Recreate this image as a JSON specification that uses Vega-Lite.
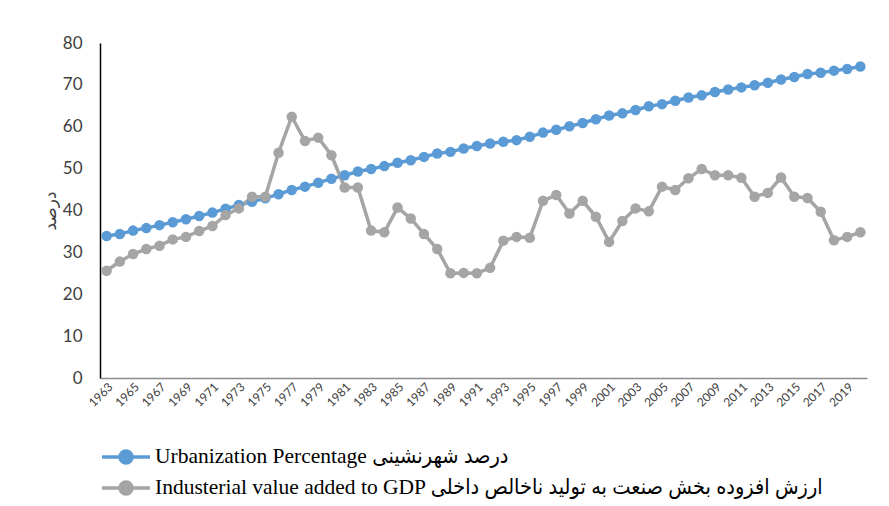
{
  "$schema": "https://vega.github.io/schema/vega-lite/v6.json",
  "autosize": {"type": "none"},
  "width": 767,
  "height": 335,
  "padding": {"left": 100, "top": 43, "right": 22, "bottom": 128},
  "background": "white",
  "config": {"view": {"stroke": null}},
  "data": {"values": [
    {"year":1963,"s":"U","v":33.9},{"year":1964,"s":"U","v":34.4},{"year":1965,"s":"U","v":35.2},{"year":1966,"s":"U","v":35.8},{"year":1967,"s":"U","v":36.5},{"year":1968,"s":"U","v":37.2},{"year":1969,"s":"U","v":37.9},{"year":1970,"s":"U","v":38.7},{"year":1971,"s":"U","v":39.5},{"year":1972,"s":"U","v":40.4},{"year":1973,"s":"U","v":41.3},{"year":1974,"s":"U","v":42.1},{"year":1975,"s":"U","v":42.9},{"year":1976,"s":"U","v":43.9},{"year":1977,"s":"U","v":44.9},{"year":1978,"s":"U","v":45.7},{"year":1979,"s":"U","v":46.6},{"year":1980,"s":"U","v":47.6},{"year":1981,"s":"U","v":48.4},{"year":1982,"s":"U","v":49.3},{"year":1983,"s":"U","v":49.9},{"year":1984,"s":"U","v":50.6},{"year":1985,"s":"U","v":51.4},{"year":1986,"s":"U","v":52.0},{"year":1987,"s":"U","v":52.8},{"year":1988,"s":"U","v":53.6},{"year":1989,"s":"U","v":54.0},{"year":1990,"s":"U","v":54.8},{"year":1991,"s":"U","v":55.4},{"year":1992,"s":"U","v":56.0},{"year":1993,"s":"U","v":56.4},{"year":1994,"s":"U","v":56.8},{"year":1995,"s":"U","v":57.6},{"year":1996,"s":"U","v":58.6},{"year":1997,"s":"U","v":59.3},{"year":1998,"s":"U","v":60.1},{"year":1999,"s":"U","v":60.9},{"year":2000,"s":"U","v":61.8},{"year":2001,"s":"U","v":62.7},{"year":2002,"s":"U","v":63.2},{"year":2003,"s":"U","v":64.0},{"year":2004,"s":"U","v":64.9},{"year":2005,"s":"U","v":65.4},{"year":2006,"s":"U","v":66.2},{"year":2007,"s":"U","v":67.0},{"year":2008,"s":"U","v":67.5},{"year":2009,"s":"U","v":68.3},{"year":2010,"s":"U","v":68.9},{"year":2011,"s":"U","v":69.4},{"year":2012,"s":"U","v":69.9},{"year":2013,"s":"U","v":70.5},{"year":2014,"s":"U","v":71.3},{"year":2015,"s":"U","v":71.9},{"year":2016,"s":"U","v":72.6},{"year":2017,"s":"U","v":72.9},{"year":2018,"s":"U","v":73.4},{"year":2019,"s":"U","v":73.8},{"year":2020,"s":"U","v":74.4},
    {"year":1963,"s":"I","v":25.6},{"year":1964,"s":"I","v":27.8},{"year":1965,"s":"I","v":29.6},{"year":1966,"s":"I","v":30.8},{"year":1967,"s":"I","v":31.6},{"year":1968,"s":"I","v":33.1},{"year":1969,"s":"I","v":33.7},{"year":1970,"s":"I","v":35.1},{"year":1971,"s":"I","v":36.3},{"year":1972,"s":"I","v":38.9},{"year":1973,"s":"I","v":40.5},{"year":1974,"s":"I","v":43.3},{"year":1975,"s":"I","v":43.3},{"year":1976,"s":"I","v":53.8},{"year":1977,"s":"I","v":62.4},{"year":1978,"s":"I","v":56.6},{"year":1979,"s":"I","v":57.4},{"year":1980,"s":"I","v":53.2},{"year":1981,"s":"I","v":45.5},{"year":1982,"s":"I","v":45.5},{"year":1983,"s":"I","v":35.2},{"year":1984,"s":"I","v":34.8},{"year":1985,"s":"I","v":40.7},{"year":1986,"s":"I","v":38.1},{"year":1987,"s":"I","v":34.4},{"year":1988,"s":"I","v":30.8},{"year":1989,"s":"I","v":25.0},{"year":1990,"s":"I","v":25.1},{"year":1991,"s":"I","v":25.0},{"year":1992,"s":"I","v":26.3},{"year":1993,"s":"I","v":32.8},{"year":1994,"s":"I","v":33.7},{"year":1995,"s":"I","v":33.5},{"year":1996,"s":"I","v":42.3},{"year":1997,"s":"I","v":43.7},{"year":1998,"s":"I","v":39.3},{"year":1999,"s":"I","v":42.3},{"year":2000,"s":"I","v":38.5},{"year":2001,"s":"I","v":32.5},{"year":2002,"s":"I","v":37.5},{"year":2003,"s":"I","v":40.5},{"year":2004,"s":"I","v":39.8},{"year":2005,"s":"I","v":45.7},{"year":2006,"s":"I","v":44.9},{"year":2007,"s":"I","v":47.7},{"year":2008,"s":"I","v":49.9},{"year":2009,"s":"I","v":48.4},{"year":2010,"s":"I","v":48.4},{"year":2011,"s":"I","v":47.8},{"year":2012,"s":"I","v":43.3},{"year":2013,"s":"I","v":44.2},{"year":2014,"s":"I","v":47.9},{"year":2015,"s":"I","v":43.3},{"year":2016,"s":"I","v":43.0},{"year":2017,"s":"I","v":39.7},{"year":2018,"s":"I","v":32.9},{"year":2019,"s":"I","v":33.7},{"year":2020,"s":"I","v":34.8}
  ]},
  "mark": {"type": "line", "strokeWidth": 3.5, "point": {"filled": true, "size": 110, "opacity": 1}},
  "encoding": {
    "x": {
      "field": "year", "type": "ordinal",
      "axis": {
        "title": null,
        "values": [1963,1965,1967,1969,1971,1973,1975,1977,1979,1981,1983,1985,1987,1989,1991,1993,1995,1997,1999,2001,2003,2005,2007,2009,2011,2013,2015,2017,2019],
        "labelAngle": -45,
        "labelFont": "Lato",
        "labelFontSize": 12,
        "labelColor": "#404040",
        "labelPadding": 3,
        "ticks": false,
        "domainColor": "#8c8c8c",
        "domainWidth": 1.5
      }
    },
    "y": {
      "field": "v", "type": "quantitative",
      "scale": {"domain": [0, 80], "nice": false},
      "axis": {
        "title": "درصد",
        "titleFont": "DejaVu Sans",
        "titleFontSize": 17,
        "titleFontWeight": "normal",
        "titleColor": "#404040",
        "titleX": -41,
        "values": [0,10,20,30,40,50,60,70,80],
        "grid": false,
        "ticks": false,
        "labelFont": "Lato",
        "labelFontSize": 17,
        "labelColor": "#404040",
        "labelPadding": 18,
        "domainColor": "#000000",
        "domainWidth": 1.5
      }
    },
    "color": {
      "field": "s", "type": "nominal",
      "scale": {"domain": ["U", "I"], "range": ["#5B9BD5", "#A5A5A5"]},
      "legend": {
        "orient": "none",
        "legendX": 0,
        "legendY": 400,
        "direction": "vertical",
        "title": null,
        "labelExpr": "datum.value == 'U' ? 'Urbanization Percentage درصد شهرنشینی' : 'Industerial value added to GDP ارزش افزوده بخش صنعت به تولید ناخالص داخلی'",
        "labelFont": "Liberation Serif, DejaVu Sans Condensed",
        "labelFontSize": 21.5,
        "labelColor": "#000000",
        "labelLimit": 0,
        "labelOffset": 27,
        "rowPadding": 4,
        "symbolType": "M-1,0H3M1.5,0A0.5,0.5,0,1,1,0.5,0A0.5,0.5,0,1,1,1.5,0Z",
        "symbolSize": 576,
        "symbolStrokeWidth": 3.5,
        "encode": {"symbols": {"update": {"fill": {"scale": "color", "field": "value"}, "stroke": {"scale": "color", "field": "value"}, "opacity": {"value": 1}}}}
      }
    }
  }
}
